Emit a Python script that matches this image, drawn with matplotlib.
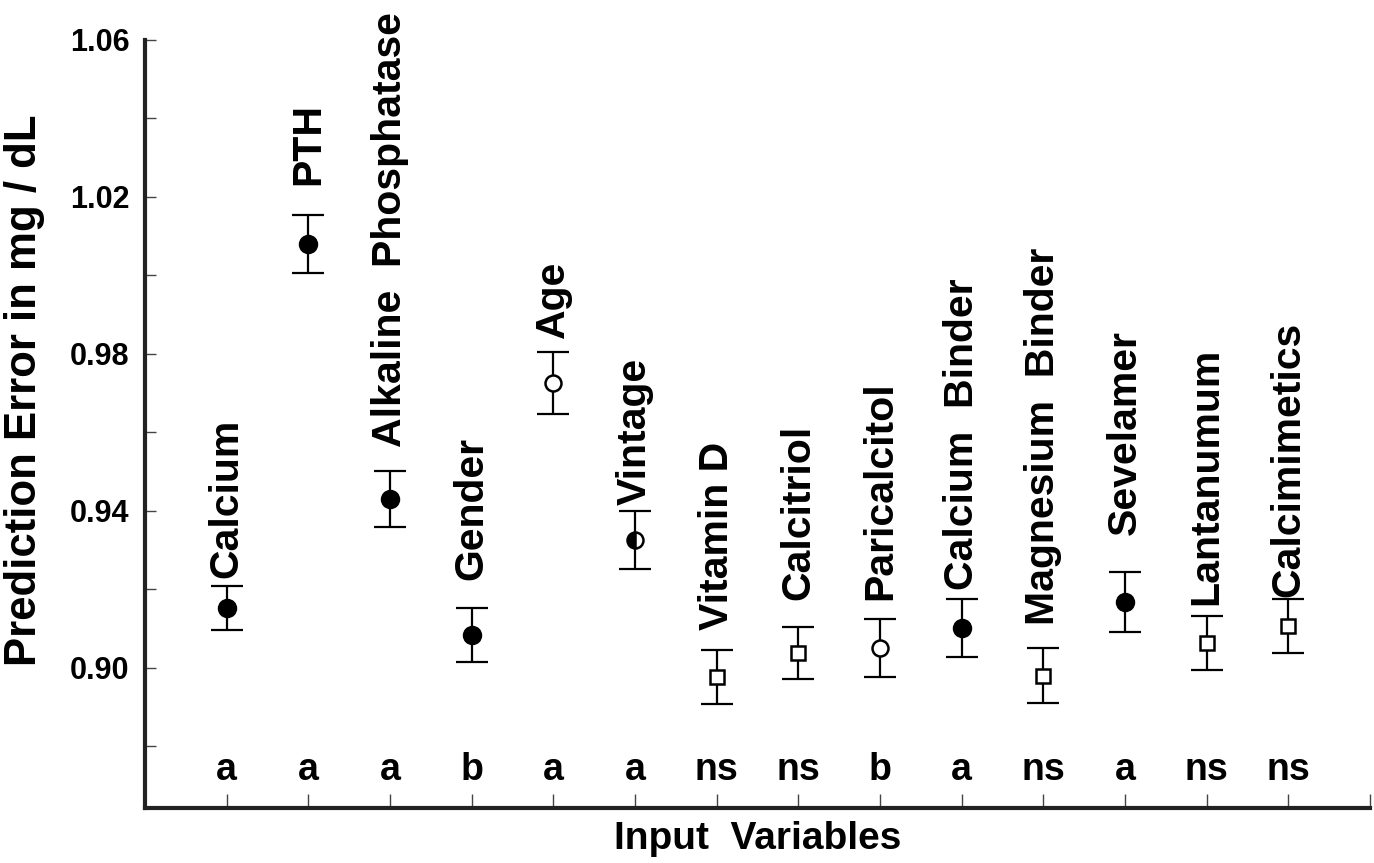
import matplotlib
matplotlib.use("Agg")
import matplotlib.pyplot as plt
from matplotlib.ticker import MultipleLocator
from matplotlib import font_manager

variables = ["Calcium", "PTH", "Alkaline  Phosphatase", "Gender", "Age", "Vintage",
             "Vitamin D", "Calcitriol", "Paricalcitol", "Calcium  Binder",
             "Magnesium  Binder", "Sevelamer", "Lantanumum", "Calcimimetics"]
means = [0.9153, 1.0080, 0.9430, 0.9084, 0.9726, 0.9326, 0.8977, 0.9038,
         0.9051, 0.9102, 0.8980, 0.9168, 0.9064, 0.9107]
errors = [0.0056, 0.0073, 0.0071, 0.0068, 0.0079, 0.0075, 0.0069, 0.0065,
          0.0074, 0.0074, 0.0070, 0.0076, 0.0069, 0.0069]
marker_kind = ["filled", "filled", "filled", "filled", "open", "half",
               "square", "square", "open", "filled", "square", "filled",
               "square", "square"]
significance = ["a", "a", "a", "b", "a", "a", "ns", "ns", "b", "a", "ns", "a", "ns", "ns"]
label_base = [0.9229, 1.0231, 0.9563, 0.9224, 0.9841, 0.9415, 0.9097, 0.9173,
              0.9173, 0.9199, 0.9110, 0.9339, 0.9161, 0.9181]

names = {f.name for f in font_manager.fontManager.ttflist}
narrow = "Liberation Sans Narrow" if "Liberation Sans Narrow" in names else "Liberation Sans"
bold_font = "Liberation Sans"

fig = plt.figure(figsize=(13.74, 8.63), dpi=100)
ax = fig.add_axes([0.1055, 0.0637, 0.8915, 0.890])

ax.set_xlim(0, 15)
ax.set_ylim(0.8643, 1.06)

for i, (m, e, kind) in enumerate(zip(means, errors, marker_kind)):
    x = i + 1
    ax.errorbar([x], [m], yerr=[e], fmt="none", ecolor="black", elinewidth=1.6,
                capsize=11.5, capthick=1.6, zorder=2)
    if kind == "filled":
        ax.plot([x], [m], marker="o", ms=12.5, mfc="black", mec="black", mew=1.5, ls="none", zorder=3)
    elif kind == "open":
        ax.plot([x], [m], marker="o", ms=11.5, mfc="white", mec="black", mew=1.8, ls="none", zorder=3)
    elif kind == "half":
        ax.plot([x], [m], marker="o", ms=11.5, fillstyle="left", markerfacecolor="black",
                markerfacecoloralt="white", mec="black", mew=1.8, ls="none", zorder=3)
    else:
        ax.plot([x], [m], marker="s", ms=10.5, mfc="white", mec="black", mew=1.8, ls="none", zorder=3)
    ax.text(x, label_base[i], variables[i], rotation=90, ha="center", va="bottom",
            fontsize=29.5, fontweight="bold", family=bold_font, color="black")
    ax.text(x, 0.8715, significance[i], ha="center", va="baseline",
            fontsize=27, fontweight="bold", family=narrow, color="black")

ax.set_xticks(range(1, 16))
ax.set_xticklabels([])
ax.tick_params(axis="x", direction="in", length=10, width=1, color="#444444")

ax.yaxis.set_major_locator(MultipleLocator(0.04))
ax.yaxis.set_minor_locator(MultipleLocator(0.02))
ax.set_yticks([0.90, 0.94, 0.98, 1.02, 1.06])
ax.set_yticklabels(["0.90", "0.94", "0.98", "1.02", "1.06"])
ax.tick_params(axis="y", which="both", direction="in", length=8, width=1,
               color="#444444", pad=11)
for lab in ax.get_yticklabels():
    lab.set_fontsize(22)
    lab.set_fontweight("bold")
    lab.set_family(narrow)

for s in ["top", "right"]:
    ax.spines[s].set_visible(False)
for s in ["left", "bottom"]:
    ax.spines[s].set_linewidth(3)
    ax.spines[s].set_color("#222222")

ax.set_ylabel("Prediction Error in mg / dL", fontsize=31.5, fontweight="bold",
              family=bold_font)
ax.yaxis.set_label_coords(-0.082, 0.544)
ax.set_xlabel("Input  Variables", fontsize=28, fontweight="bold", family=narrow, labelpad=6)

fig.savefig("out.png", dpi=100)
